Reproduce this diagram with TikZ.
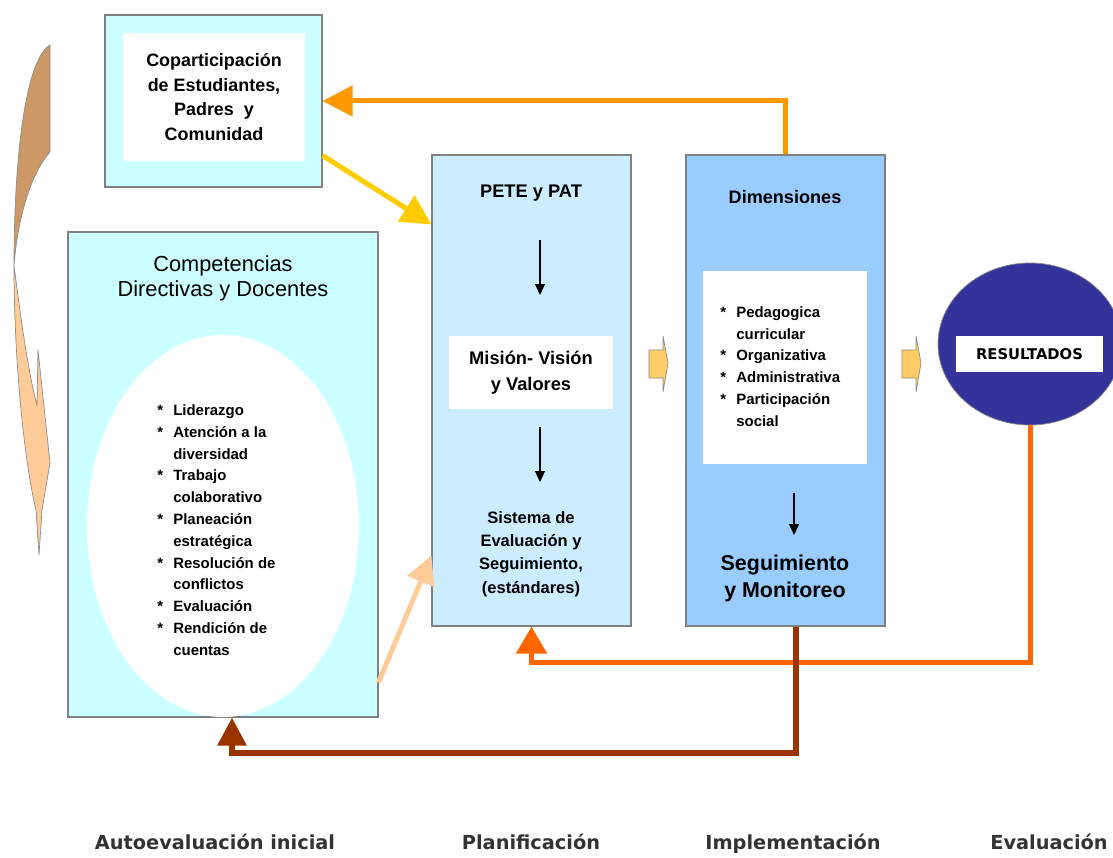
\documentclass[tikz,border=0pt]{standalone}
\usepackage{fontspec}
\setmainfont{Liberation Sans}
\newfontfamily\etapafont{DejaVu Sans}
\usetikzlibrary{arrows.meta,calc,shapes.geometric}

\definecolor{cian}{HTML}{CCFFFF}
\definecolor{celeste}{HTML}{CCECFF}
\definecolor{azulclaro}{HTML}{99CCFF}
\definecolor{azulosc}{HTML}{333399}
\definecolor{naranja}{HTML}{FF9900}
\definecolor{amarillo}{HTML}{FFCC00}
\definecolor{durazno}{HTML}{FFCC99}
\definecolor{rojizo}{HTML}{FF6600}
\definecolor{cafe}{HTML}{993300}
\definecolor{canela}{HTML}{CC9966}
\definecolor{ocre}{HTML}{FFCC66}

\newcommand{\bul}{\makebox[9.1pt][l]{*}}
\newcommand{\sinbul}{\hspace*{9.1pt}}

\begin{document}
\begin{tikzpicture}[x=0.2mm, y=-0.2mm,
  caja/.style={draw=black!50, line width=0.6pt, inner sep=0pt},
  blanca/.style={fill=white, inner sep=0pt},
  txt/.style={font=\bfseries\fontsize{10.2}{14.2}\selectfont, align=center},
  lista/.style={font=\bfseries\fontsize{8.5}{12.4}\selectfont, align=left, anchor=west, inner sep=0pt},
  gruesa/.style={line width=1mm, -{Triangle[length=6mm,width=6mm]}},
  flecha/.style={line width=0.6pt, -{Triangle[length=2.2mm,width=2mm]}},
  bloque/.style={fill=ocre, draw=black!45, line width=0.4pt},
  curva/.style={draw=black!45, line width=0.4pt},
  etapa/.style={font=\etapafont\bfseries\fontsize{11}{13}\selectfont, text=black!80, anchor=base, inner sep=0pt}
]
\useasboundingbox (0,0) rectangle (1113,857);

% flecha curva de la izquierda
\path[curva, fill=canela] (50,45) -- (50,152) .. controls (32,172) and (18,215) .. (14,265)
  .. controls (14,160) and (25,60) .. (50,45) -- cycle;
\path[curva, fill=durazno] (14,265) .. controls (22,330) and (30,380) .. (37,405) -- (38,350)
  -- (50,463) -- (42,510) -- (39,555) -- (36,510) .. controls (24,460) and (14,360) .. (14,265) -- cycle;

% coparticipacion
\node[caja, fill=cian, minimum width=43.4mm, minimum height=34.4mm] (copart) at (213.5,101) {};
\node[blanca, minimum width=36.4mm, minimum height=25.6mm, txt] (copartt) at (214,97)
  {Coparticipación\\de Estudiantes,\\Padres~ y\\Comunidad};

% competencias
\node[caja, fill=cian, minimum width=62mm, minimum height=97mm] (compet) at (223,474.5) {};
\node[ellipse, fill=white, inner sep=0pt, minimum width=54.4mm, minimum height=76.4mm] (elipse) at (223,526) {};
\node[font=\fontsize{12.4}{14.2}\selectfont, align=center] (compett) at (223,278)
  {Competencias\\Directivas y Docentes};
\node[lista] (compl) at (157,530)
  {\bul Liderazgo\\
   \bul Atención a la\\
   \sinbul diversidad\\
   \bul Trabajo\\
   \sinbul colaborativo\\
   \bul Planeación\\
   \sinbul estratégica\\
   \bul Resolución de\\
   \sinbul conflictos\\
   \bul Evaluación\\
   \bul Rendición de\\
   \sinbul cuentas};

% planificacion
\node[caja, fill=celeste, minimum width=39.8mm, minimum height=94.2mm] (pete) at (531.5,390.5) {};
\node[txt, font=\bfseries\fontsize{10.4}{14.2}\selectfont] (petet) at (531,193) {PETE y PAT};
\node[blanca, txt, minimum width=32.8mm, minimum height=14.6mm,
  font=\bfseries\fontsize{10.4}{14.8}\selectfont] (mision) at (531,372.5) {Misión- Visión\\y Valores};
\node[txt, font=\bfseries\fontsize{9.4}{13.3}\selectfont] (sist) at (531,554)
  {Sistema de\\Evaluación y\\Seguimiento,\\(estándares)};
\coordinate (p1) at (540,240);
\coordinate (p2) at (540,295);
\coordinate (p3) at (540,427);
\coordinate (p4) at (540,482);
\draw[flecha] (p1) -- (p2);
\draw[flecha] (p3) -- (p4);

% implementacion
\node[caja, fill=azulclaro, minimum width=39.8mm, minimum height=94.2mm] (dim) at (785.5,390.5) {};
\node[txt, font=\bfseries\fontsize{10.3}{14.2}\selectfont] (dimt) at (785,197) {Dimensiones};
\node[blanca, minimum width=32.8mm, minimum height=38.6mm] (dimb) at (785,367.5) {};
\node[lista] (diml) at (720,366.5)
  {\bul Pedagogica\\
   \sinbul curricular\\
   \bul Organizativa\\
   \bul Administrativa\\
   \bul Participación\\
   \sinbul social};
\node[txt, font=\bfseries\fontsize{12.2}{15.4}\selectfont] (segt) at (785,578) {Seguimiento\\y Monitoreo};
\coordinate (d1) at (794,493);
\coordinate (d2) at (794,535);
\draw[flecha] (d1) -- (d2);

% resultados
\node[ellipse, fill=azulosc, draw=black!45, line width=0.4pt, inner sep=0pt,
  minimum width=36.8mm, minimum height=32.4mm] (res) at (1030,344) {};
\node[blanca, minimum width=29.4mm, minimum height=7.2mm,
  font=\etapafont\bfseries\fontsize{8.4}{9}\selectfont] (rest) at (1029.5,354) {RESULTADOS};

% flechas de bloque
\path[bloque] (649,350) -- (663,350) -- (663,336) -- (668,363) -- (663,392) -- (663,378) -- (649,378) -- cycle;
\path[bloque] (902,350) -- (916,350) -- (916,336) -- (921,363) -- (916,392) -- (916,378) -- (902,378) -- cycle;

% conectores
\draw[gruesa, draw=naranja] (dim.north) |- (copart.east);
\draw[gruesa, draw=amarillo] ($(copart.south east)+(0,-32)$) -- ($(pete.north west)+(0,70)$);
\draw[gruesa, draw=durazno, -{Triangle[length=5.6mm,width=5.6mm]}]
  ($(compet.south east)+(0,-35)$) -- ($(pete.south west)+(0,-71)$);
\draw[gruesa, draw=rojizo, -{Triangle[length=5.4mm,width=6mm]}]
  (res.south) -- ++(0,237) -| (pete.south);
\draw[gruesa, draw=cafe, line width=1.2mm, -{Triangle[length=5.6mm,width=5.6mm]}]
  ($(dim.south)+(10,0)$) -- ++(0,126) -| ($(compet.south)+(9,0)$);

% etapas
\node[etapa] (e1) at (215,849) {Autoevaluación inicial};
\node[etapa] (e2) at (531,849) {Planificación};
\node[etapa] (e3) at (793,849) {Implementación};
\node[etapa] (e4) at (1049,849) {Evaluación};
\end{tikzpicture}
\end{document}
